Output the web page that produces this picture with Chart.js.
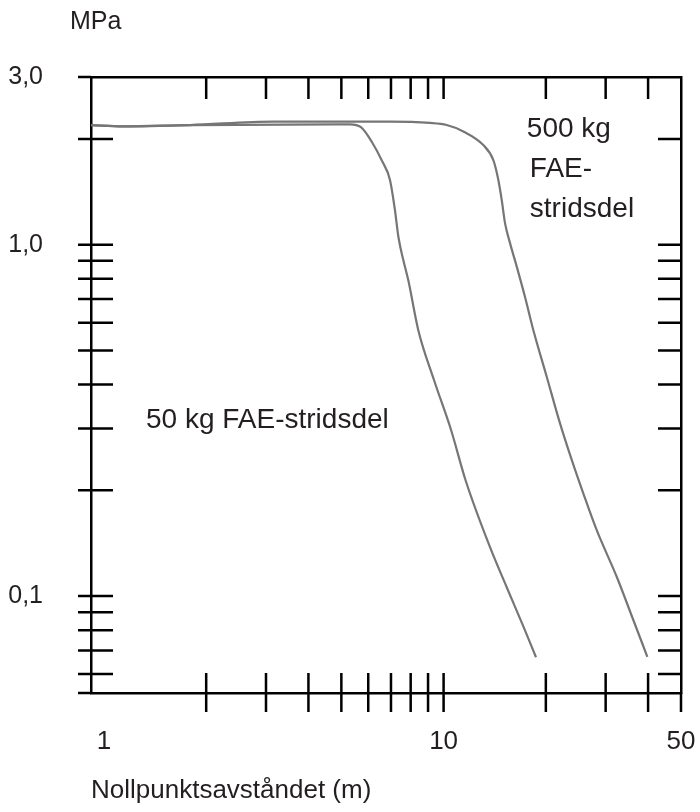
<!DOCTYPE html>
<html><head><meta charset="utf-8">
<script src="https://cdn.jsdelivr.net/npm/chart.js@4"></script>
<style>html,body{margin:0;padding:0;background:#fff}canvas{display:block}</style>
</head><body>
<canvas id="c" width="700" height="812"></canvas>
<script>
// ---- data ----
const dist50  = [0.916, 1.138, 1.792, 5.30, 5.71, 6.15, 6.59, 6.95, 7.19, 7.36, 7.61, 7.87, 8.42, 9.37, 10.52, 11.60, 13.69, 15.34, 17.17, 18.71];
const press50 = [2.19, 2.17, 2.19, 2.20, 2.16, 1.96, 1.73, 1.53, 1.255, 1.053, 0.904, 0.793, 0.572, 0.412, 0.297, 0.214, 0.138, 0.106, 0.082, 0.067];
const dist500  = [0.916, 1.138, 1.792, 3.15, 6.95, 9.12, 10.21, 11.43, 13.09, 14.01, 14.49, 14.83, 15.17, 15.69, 16.42, 17.36, 18.37, 20.12, 22.02, 23.84, 25.78, 28.24, 32.34, 36.19, 39.80];
const press500 = [2.19, 2.17, 2.19, 2.24, 2.24, 2.22, 2.19, 2.10, 1.92, 1.74, 1.53, 1.34, 1.15, 1.01, 0.866, 0.711, 0.572, 0.421, 0.310, 0.244, 0.196, 0.154, 0.1135, 0.0855, 0.0672];

const xLabelValues = [1, 10, 50];
const xLabelTexts  = ['1', '10', '50'];
const yLabelValues = [3, 1, 0.1];
const yLabelTexts  = ['3,0', '1,0', '0,1'];
const xMinorTicks = [2, 3, 4, 5, 6, 7, 8, 9, 10, 20, 30, 40];
const yMinorTicks = [2, 1, 0.9, 0.8, 0.7, 0.6, 0.5, 0.4, 0.3, 0.2, 0.1, 0.09, 0.08, 0.07, 0.06];

const xMin = 0.916, xMax = 50;
const yMin = 0.053, yMax = 3.0;

const yUnit = 'MPa';
const xTitle = 'Nollpunktsavståndet (m)';
const label500 = ['500 kg', 'FAE-', 'stridsdel'];
const label50 = '50 kg FAE-stridsdel';

const FONT = '"Liberation Sans", Arial, Helvetica, sans-serif';
const TEXT = '#231f20';
const CURVE = '#767676';

const toPts = (xs, ys) => xs.map((x, i) => ({x, y: ys[i]}));
const noPad = s => { s.paddingLeft = 0; s.paddingRight = 0; s.paddingTop = 0; s.paddingBottom = 0; };

const frameTicks = {
  id: 'frameTicks',
  afterDraw(chart) {
    const {ctx, chartArea: a, scales} = chart;
    const xs = scales.x, ys = scales.y;
    ctx.save();
    ctx.strokeStyle = '#000';
    ctx.lineWidth = 2.5;
    ctx.beginPath();
    xMinorTicks.forEach(v => {
      const p = xs.getPixelForValue(v);
      ctx.moveTo(p, a.top); ctx.lineTo(p, a.top + 22);
      ctx.moveTo(p, a.bottom - 20); ctx.lineTo(p, a.bottom + 19);
    });
    ctx.moveTo(a.right, a.bottom); ctx.lineTo(a.right, a.bottom + 19);
    yMinorTicks.forEach(v => {
      const p = ys.getPixelForValue(v);
      ctx.moveTo(a.left - 13, p); ctx.lineTo(a.left + 22, p);
      ctx.moveTo(a.right - 23, p); ctx.lineTo(a.right, p);
    });
    ctx.moveTo(a.left - 13, a.top); ctx.lineTo(a.left, a.top);
    ctx.moveTo(a.left - 13, a.bottom); ctx.lineTo(a.left, a.bottom);
    ctx.stroke();

    ctx.fillStyle = TEXT;
    ctx.textAlign = 'left';
    ctx.textBaseline = 'alphabetic';
    ctx.font = '25px ' + FONT;
    ctx.fillText(yUnit, 70, 29);
    ctx.font = '28px ' + FONT;
    const bx = xs.getPixelForValue(20) - 19;
    ctx.fillText(label500[0], bx, 137);
    ctx.fillText(label500[1], bx + 3, 177);
    ctx.fillText(label500[2], bx + 3, 217);
    ctx.fillText(label50, xs.getPixelForValue(1.33), 428);
    ctx.restore();
  }
};

new Chart(document.getElementById('c'), {
  type: 'scatter',
  data: {
    datasets: [
      { label: '50 kg', data: toPts(dist50, press50), showLine: true, borderColor: CURVE, borderWidth: 2.2, pointRadius: 0, cubicInterpolationMode: 'monotone', xAxisID: 'x', yAxisID: 'y' },
      { label: '500 kg', data: toPts(dist500, press500), showLine: true, borderColor: CURVE, borderWidth: 2.2, pointRadius: 0, cubicInterpolationMode: 'monotone', xAxisID: 'x', yAxisID: 'y' }
    ]
  },
  options: {
    responsive: false,
    animation: false,
    devicePixelRatio: 1,
    layout: { padding: 0 },
    plugins: { legend: { display: false }, tooltip: { enabled: false } },
    scales: {
      x: {
        type: 'logarithmic', position: 'bottom', min: xMin, max: xMax,
        afterBuildTicks: s => { s.ticks = xLabelValues.map(v => ({value: v})); },
        afterFit: s => { s.height = 119; noPad(s); },
        grid: { display: false, drawTicks: false },
        border: { display: true, color: '#000', width: 2.5 },
        ticks: { autoSkip: false, maxRotation: 0, padding: 33, color: TEXT, font: { family: FONT, size: 26 },
                 callback: (v, i) => xLabelTexts[i] },
        title: { display: true, text: xTitle, align: 'start', color: TEXT, font: { family: FONT, size: 26 }, padding: { top: 0, bottom: 6 } }
      },
      x2: {
        type: 'logarithmic', position: 'top', min: xMin, max: xMax,
        afterFit: s => { s.height = 77; noPad(s); },
        grid: { display: false, drawTicks: false },
        border: { display: true, color: '#000', width: 2.5 },
        ticks: { display: false }
      },
      y: {
        type: 'logarithmic', position: 'left', min: yMin, max: yMax,
        afterBuildTicks: s => { s.ticks = yLabelValues.map(v => ({value: v})); },
        afterFit: s => { s.width = 91; noPad(s); },
        grid: { display: false, drawTicks: false },
        border: { display: true, color: '#000', width: 2.5 },
        ticks: { autoSkip: false, padding: 48, color: TEXT, font: { family: FONT, size: 25 },
                 callback: (v, i) => yLabelTexts[i] }
      },
      y2: {
        type: 'logarithmic', position: 'right', min: yMin, max: yMax,
        afterFit: s => { s.width = 19; noPad(s); },
        grid: { display: false, drawTicks: false },
        border: { display: true, color: '#000', width: 2.5 },
        ticks: { display: false }
      }
    }
  },
  plugins: [frameTicks]
});
</script>
</body></html>
